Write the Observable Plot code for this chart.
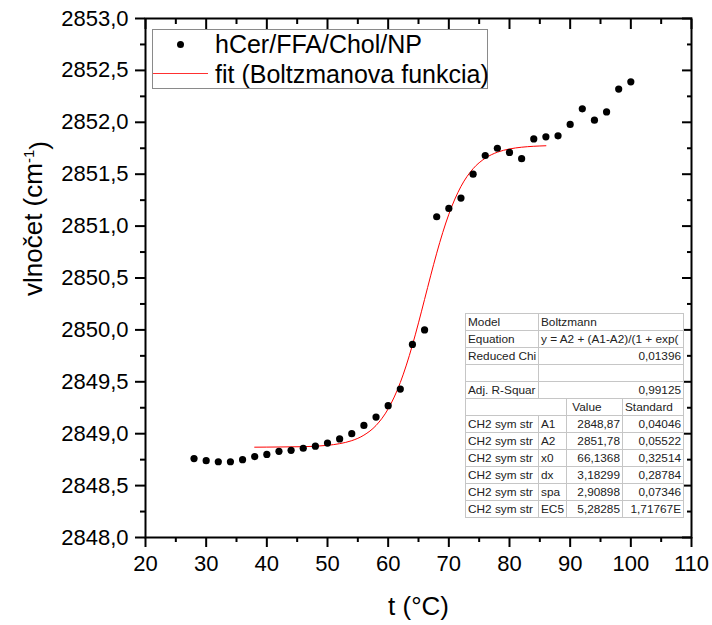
<!DOCTYPE html>
<html><head><meta charset="utf-8">
<script src="https://cdn.jsdelivr.net/npm/d3@7"></script>
<script src="https://cdn.jsdelivr.net/npm/@observablehq/plot@0.6"></script>
<style>
html,body{margin:0;padding:0;background:#fff;}
#wrap{position:relative;width:712px;height:625px;font-family:"Liberation Sans",Arial,sans-serif;overflow:hidden;}
#wrap svg{position:absolute;left:0;top:0;}
#legend{position:absolute;left:152px;top:29px;width:336px;height:60px;border:1px solid #8a8a8a;background:#fff;box-sizing:border-box;}
#legend .dot{position:absolute;left:24px;top:11px;width:7px;height:7px;border-radius:50%;background:#000;}
#legend .ln{position:absolute;left:0;top:43px;width:55px;height:1px;background:#ff3030;}
#legend .t{position:absolute;left:62px;font-size:25px;line-height:25px;white-space:nowrap;color:#000;}
#tbl{position:absolute;left:465px;top:313px;border-collapse:collapse;table-layout:fixed;width:218px;background:#fff;font-size:11.8px;color:#222;border:1px solid #888;}
#tbl td{height:16px;line-height:16px;padding:0 1px 0 2px;border:1px solid #c6c6c6;white-space:nowrap;overflow:visible;}
#tbl td.r{text-align:right;padding-right:2px;}
</style></head><body><div id="wrap"></div>
<script>
// measured series: temperature (°C) and wavenumber (cm-1)
const temperature = [28,30,32,34,36,38,40,42,44,46,48,50,52,54,56,58,60,62,64,66,68,70,72,74,76,78,80,82,84,86,88,90,92,94,96,98,100];
const wavenumber = [2848.76,2848.74,2848.73,2848.73,2848.75,2848.78,2848.80,2848.83,2848.84,2848.86,2848.88,2848.91,2848.95,2849.00,2849.08,2849.16,2849.27,2849.43,2849.86,2850.00,2851.09,2851.17,2851.27,2851.50,2851.68,2851.75,2851.71,2851.65,2851.84,2851.86,2851.87,2851.98,2852.13,2852.02,2852.10,2852.32,2852.39];
// fit curve
const fitTemperature = [38,42,46,50,52,54,56,58,60,61,62,63,64,65,66,67,68,69,70,72,74,76,78,80,82,84,86];
const fitWavenumber = [2848.870,2848.872,2848.875,2848.888,2848.904,2848.933,2848.986,2849.079,2849.239,2849.353,2849.493,2849.661,2849.854,2850.068,2850.294,2850.521,2850.739,2850.939,2851.114,2851.382,2851.553,2851.654,2851.712,2851.743,2851.760,2851.769,2851.774];
// ticks
const yTicks = [2848.0,2848.5,2849.0,2849.5,2850.0,2850.5,2851.0,2851.5,2852.0,2852.5,2853.0];
const yMinorTicks = [2848.25,2848.75,2849.25,2849.75,2850.25,2850.75,2851.25,2851.75,2852.25,2852.75];
const xTicks = [20,30,40,50,60,70,80,90,100,110];
const xMinorTicks = [25,35,45,55,65,75,85,95,105];
// texts
const xTitle = "t (°C)";
const yTitle = "vlnočet (cm-1)";
const seriesLabel = "hCer/FFA/Chol/NP";
const fitLabel = "fit (Boltzmanova funkcia)";
// fit table
const tableModel = "Boltzmann";
const tableEquation = "y = A2 + (A1-A2)/(1 + exp(";
const reducedChi = "0,01396";
const adjR2 = "0,99125";
const paramNames = ["A1","A2","x0","dx","spa","EC5"];
const paramValues = ["2848,87","2851,78","66,1368","3,18299","2,90898","5,28285"];
const paramErrors = ["0,04046","0,05522","0,32514","0,28784","0,07346","1,71767E"];
const seriesName = "CH2 sym str";

const points = temperature.map((t,i)=>({t, v: wavenumber[i]}));
const fit = fitTemperature.map((t,i)=>({t, v: fitWavenumber[i]}));
const fmt = d => d3.format(".1f")(d).replace(".", ",");

const sw = 2;
const chart = Plot.plot({
  width: 712, height: 625,
  marginLeft: 145, marginRight: 21, marginTop: 18, marginBottom: 88,
  x: {domain: [20, 110]},
  y: {domain: [2848, 2853]},
  style: {fontFamily: '"Liberation Sans", Arial, sans-serif', fontSize: "22px", color: "black", background: "white", overflow: "visible"},
  marks: [
    Plot.line(fit, {x: "t", y: "v", stroke: "#ff0000", strokeWidth: 1, curve: "monotone-x"}),
    Plot.dot(points, {x: "t", y: "v", r: 3.6, fill: "black", stroke: "none"}),
    Plot.axisY({ticks: yTicks, tickSize: 10, tickPadding: 7, tickFormat: fmt, label: null, strokeWidth: sw, fontSize: 22}),
    Plot.axisY({ticks: yMinorTicks, tickSize: 5, fill: "none", label: null, strokeWidth: sw}),
    Plot.axisY({anchor: "right", ticks: yTicks, tickSize: 10, dx: -10, fill: "none", label: null, strokeWidth: sw}),
    Plot.axisY({anchor: "right", ticks: yMinorTicks, tickSize: 5, dx: -5, fill: "none", label: null, strokeWidth: sw}),
    Plot.axisX({ticks: xTicks, tickSize: 10, tickPadding: 8, tickFormat: d => String(d), label: null, strokeWidth: sw, fontSize: 22}),
    Plot.axisX({ticks: xMinorTicks, tickSize: 5, fill: "none", label: null, strokeWidth: sw}),
    Plot.axisX({anchor: "top", ticks: xTicks, tickSize: 10, dy: 10, fill: "none", label: null, strokeWidth: sw}),
    Plot.axisX({anchor: "top", ticks: xMinorTicks, tickSize: 5, dy: 5, fill: "none", label: null, strokeWidth: sw}),
    Plot.frame({stroke: "black", strokeWidth: sw}),
    Plot.text([xTitle], {frameAnchor: "bottom", dy: 77, lineAnchor: "bottom", fontSize: 26, fill: "black"}),
    Plot.text([yTitle], {frameAnchor: "left", dx: -112, dy: 18, rotate: -90, fontSize: 26, fill: "black"})
  ]
});

// superscript for cm-1
d3.select(chart).selectAll("text").filter(function(){ return this.textContent === yTitle; }).each(function(){
  const el = d3.select(this);
  el.text(null);
  el.append("tspan").text("vlnočet (cm");
  el.append("tspan").attr("dy", "-0.55em").attr("font-size", "15px").text("-1");
  el.append("tspan").attr("dy", "0.55em").text(")");
});

const wrap = document.getElementById("wrap");
wrap.appendChild(chart);

// legend
const lg = document.createElement("div");
lg.id = "legend";
lg.innerHTML = `<div class="dot"></div><div class="ln"></div>
<div class="t" style="top:2px">${seriesLabel}</div>
<div class="t" style="top:32px">${fitLabel}</div>`;
wrap.appendChild(lg);

// table
let rows = "";
rows += `<tr><td>Model</td><td colspan="3">${tableModel}</td></tr>`;
rows += `<tr><td>Equation</td><td colspan="3">${tableEquation}</td></tr>`;
rows += `<tr><td>Reduced Chi</td><td colspan="3" class="r">${reducedChi}</td></tr>`;
rows += `<tr><td></td><td colspan="3"></td></tr>`;
rows += `<tr><td>Adj. R-Squar</td><td colspan="3" class="r">${adjR2}</td></tr>`;
rows += `<tr><td colspan="2"></td><td>&nbsp;Value</td><td>Standard</td></tr>`;
paramNames.forEach((p,i)=>{
  rows += `<tr><td>${seriesName}</td><td>${p}</td><td class="r">${paramValues[i]}</td><td class="r">${paramErrors[i]}</td></tr>`;
});
const tb = document.createElement("table");
tb.id = "tbl";
tb.innerHTML = `<colgroup><col style="width:73px"><col style="width:28px"><col style="width:56px"><col style="width:61px"></colgroup>` + rows;
wrap.appendChild(tb);
</script>
</body></html>
